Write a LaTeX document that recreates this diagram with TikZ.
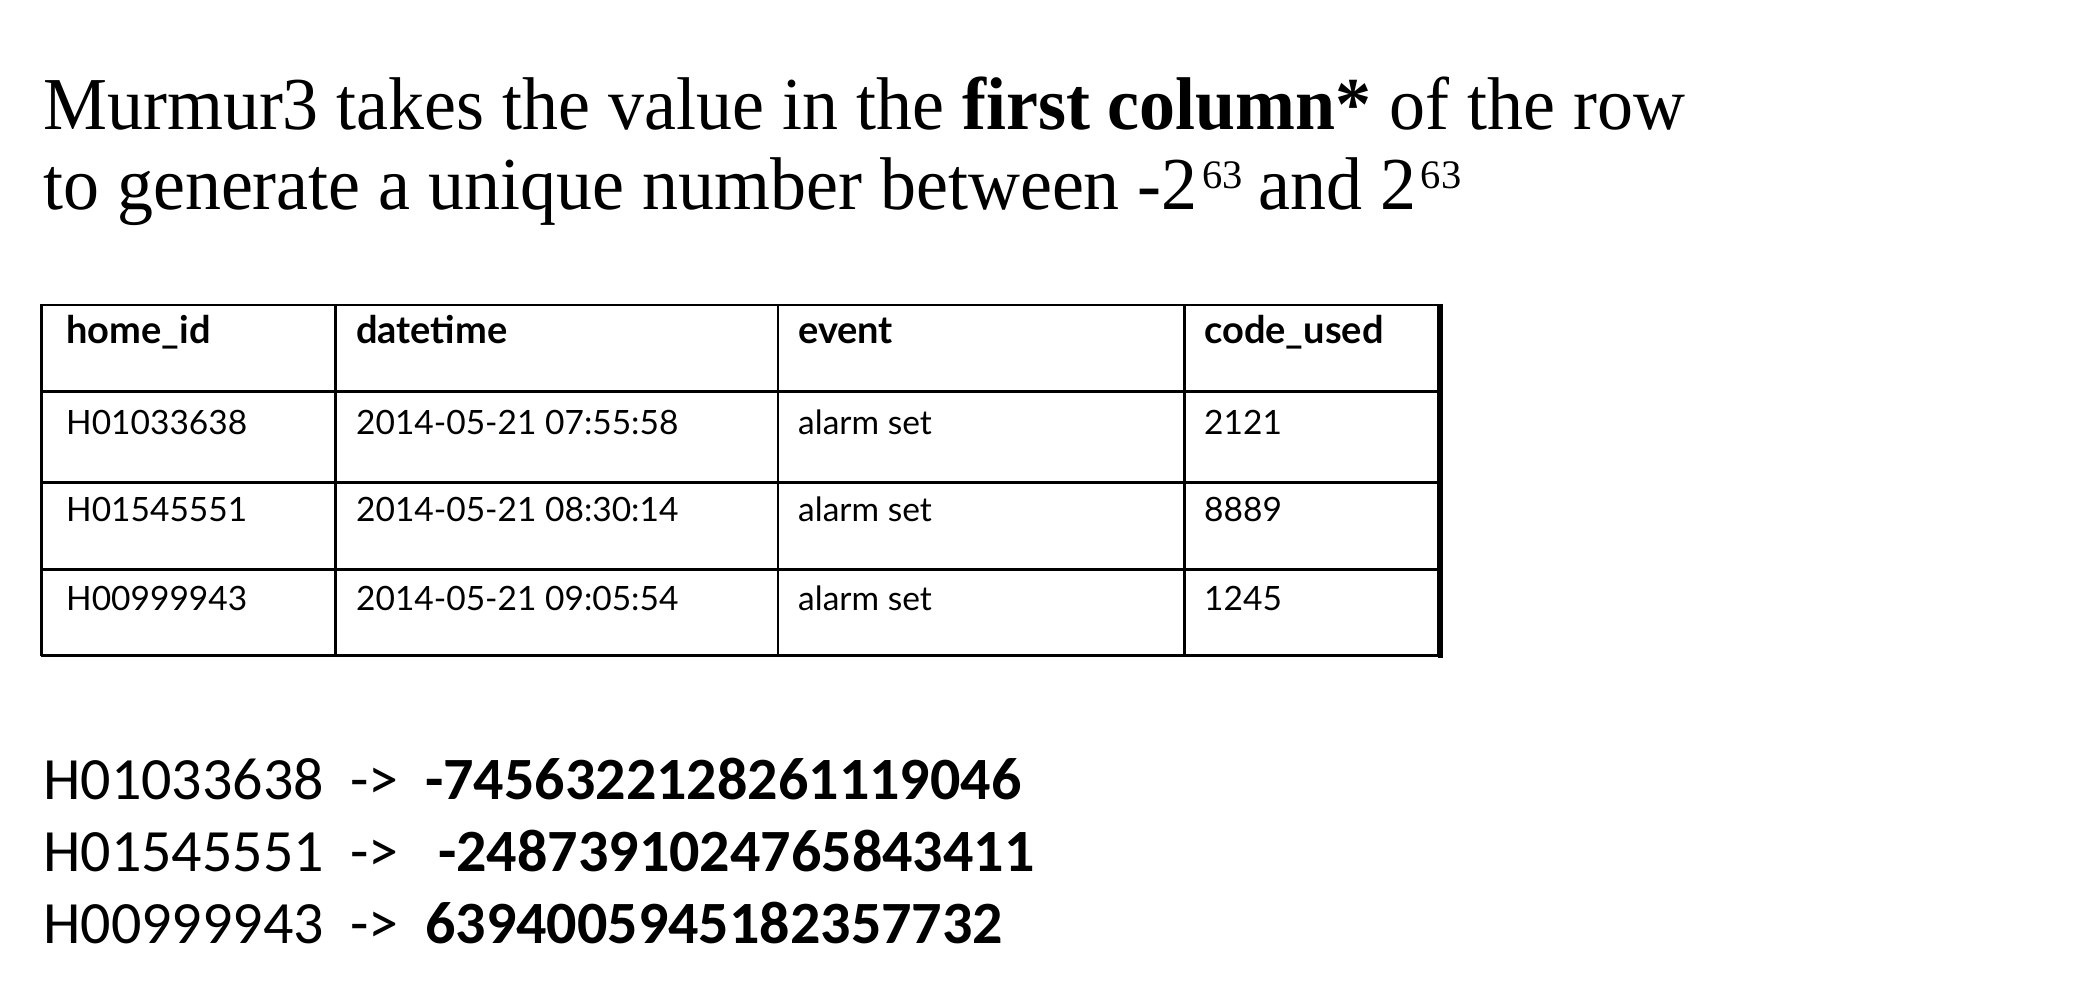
\documentclass[tikz,border=0pt]{standalone}
\usepackage{fontspec}
\setmainfont{Liberation Serif}[FakeStretch=0.963]
\newfontfamily\supfont{Liberation Serif}
\newfontfamily\tabfont{Lato}
\newfontfamily\calfont{Carlito}
\newcommand{\supnum}[1]{\kern5pt\raisebox{21.7pt}{\supfont\fontsize{40.5}{41}\selectfont #1}}
\begin{document}
\begin{tikzpicture}[x=1pt,y=-1pt,
  title/.style={anchor=base west,inner sep=0pt,font=\fontsize{74.7}{80}\selectfont},
  cell/.style={anchor=base west,inner sep=0pt,font=\tabfont\fontsize{33.5}{36}\selectfont},
  head/.style={anchor=base west,inner sep=0pt,font=\tabfont\bfseries\fontsize{38}{40}\selectfont},
  hashline/.style={anchor=base west,inner sep=0pt,font=\calfont\fontsize{60}{66}\selectfont},
  grid/.style={line width=2.6pt,black}]
\useasboundingbox (0,0) rectangle (2096,988);
% title
\node[title] (t1) at (43,129.7) {Murmur3 takes the value in the \textbf{first column*} of the row};
\node[title] (t2) at (43,209.9) {to generate a unique number between -2\supnum{63}\kern-3pt{} and 2\supnum{63}};
% table frame
\draw[grid] (41.4,304.8) rectangle (1438,655);
\foreach \yy in {391.6,482.5,569.2} \draw[grid] (41.4,\yy) -- (1438,\yy);
\foreach \xx in {335.5,778,1184.3} \draw[grid] (\xx,304.8) -- (\xx,655);
\draw[line width=5.5pt] (1440.5,303.5) -- (1440.5,657.5);
\draw[line width=1.5pt] (41.4,656.5) -- (1438,656.5);
% header
\node[head] (h1) at (66,343.3) {home\_id};
\node[head] (h2) at (356,343.3) {datetime};
\node[head] (h3) at (798,343.3) {event};
\node[head] (h4) at (1204,343.3) {code\_used};
% rows
\node[cell] (r11) at (66,434.5) {H01033638};
\node[cell] (r12) at (356,434.5) {2014-05-21 07:55:58};
\node[cell] (r13) at (798,434.5) {alarm set};
\node[cell] (r14) at (1204,434.5) {2121};
\node[cell] (r21) at (66,521.7) {H01545551};
\node[cell] (r22) at (356,521.7) {2014-05-21 08:30:14};
\node[cell] (r23) at (798,521.7) {alarm set};
\node[cell] (r24) at (1204,521.7) {8889};
\node[cell] (r31) at (66,610) {H00999943};
\node[cell] (r32) at (356,610) {2014-05-21 09:05:54};
\node[cell] (r33) at (798,610) {alarm set};
\node[cell] (r34) at (1204,610) {1245};
% hashes
\node[hashline] (k1) at (43,799) {H01033638};
\node[hashline] (a1) at (350,799) {->};
\node[hashline] (v1) at (425,799) {\bfseries -7456322128261119046};
\node[hashline] (k2) at (43,871.5) {H01545551};
\node[hashline] (a2) at (350,871.5) {->};
\node[hashline] (v2) at (438,871.5) {\bfseries -2487391024765843411};
\node[hashline] (k3) at (43,943.7) {H00999943};
\node[hashline] (a3) at (350,943.7) {->};
\node[hashline] (v3) at (425,943.7) {\bfseries 6394005945182357732};
\end{tikzpicture}
\end{document}
